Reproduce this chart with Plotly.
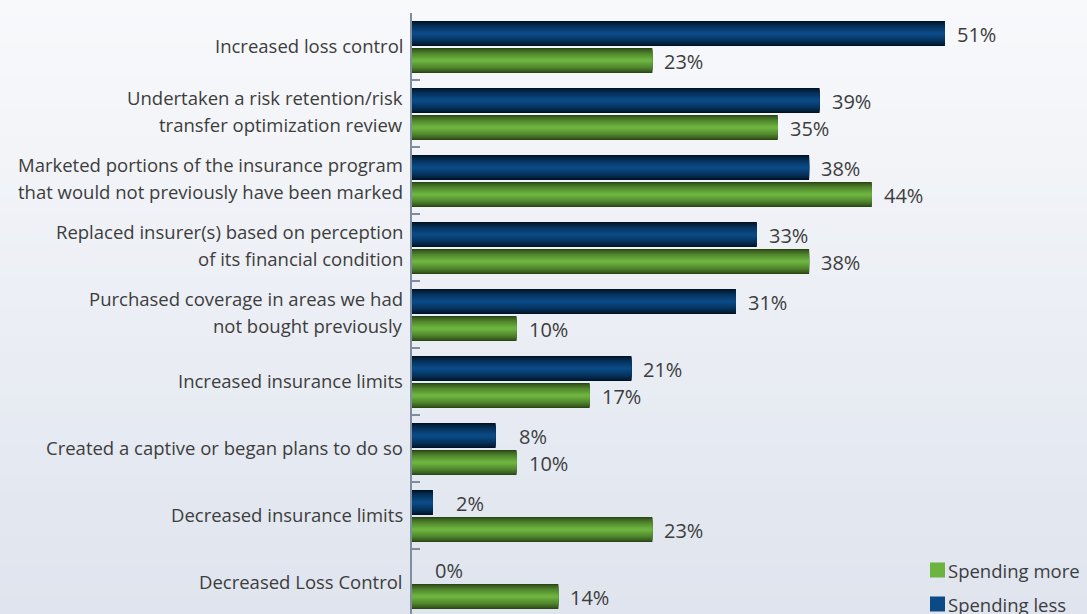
import plotly.graph_objects as go

categories = [
    "Increased loss control",
    "Undertaken a risk retention/risk<br>transfer optimization review",
    "Marketed portions of the insurance program<br>that would not previously have been marked",
    "Replaced insurer(s) based on perception<br>of its financial condition",
    "Purchased coverage in areas we had<br>not bought previously",
    "Increased insurance limits",
    "Created a captive or began plans to do so",
    "Decreased insurance limits",
    "Decreased Loss Control",
]
spending_less = [51, 39, 38, 33, 31, 21, 8, 2, 0]
spending_more = [23, 35, 44, 38, 10, 17, 10, 23, 14]
series_names = ["Spending more", "Spending less"]

W, H = 1087, 614
ML, MT = 412, 13
plot_w = W - ML
plot_h = H - MT
cat_px = 67.0
px_per_pct = 10.45

pos = list(range(len(categories)))
FONT = "Open Sans"
TXT = "#3d3d3d"
GREEN = "#6cb43f"
BLUE = "#0a4a86"
AXIS = "#7f8e9e"

fig = go.Figure()

def shade(c1, c2, t):
    a = [int(c1[i:i+2], 16) for i in (1, 3, 5)]
    b = [int(c2[i:i+2], 16) for i in (1, 3, 5)]
    return "#%02x%02x%02x" % tuple(round(a[k] + (b[k] - a[k]) * t) for k in range(3))

bar_w = 25 / cat_px
series = [
    (spending_less, -13.0 / cat_px, "#001326", BLUE),
    (spending_more, 14.0 / cat_px, "#2b4716", GREEN),
]
NL = 10
for vals, off, edge, mid in series:
    for k in range(NL):
        t = k / (NL - 1)
        frac = 1 - 0.9 * t
        fig.add_trace(go.Bar(
            x=vals, y=pos, orientation="h",
            width=bar_w * frac,
            offset=off - bar_w * frac / 2,
            marker=dict(color=shade(edge, mid, t ** 0.7), line=dict(width=0)),
            showlegend=False, hoverinfo="skip",
        ))

# value labels
for i in pos:
    fig.add_annotation(x=spending_less[i], y=i, text=f"{spending_less[i]}%", showarrow=False,
                       xanchor="right", xshift=53, yshift=12, font=dict(size=20, color=TXT, family=FONT))
    fig.add_annotation(x=spending_more[i], y=i, text=f"{spending_more[i]}%", showarrow=False,
                       xanchor="right", xshift=53, yshift=-15, font=dict(size=20, color=TXT, family=FONT))

# category labels (one annotation per line for line spacing control)
LS = 27.5
for i, lab in zip(pos, categories):
    lines = lab.split("<br>")
    n = len(lines)
    for j, ln in enumerate(lines):
        fig.add_annotation(x=0, xref="paper", y=i, yref="y", text=ln, showarrow=False,
                           xanchor="right", xshift=-7,
                           yshift=((n - 1) / 2 - j) * LS + (2.5 if n > 1 else 1),
                           font=dict(size=18.5, color=TXT, family=FONT))

# legend built manually
def px2paper_x(px):
    return (px - ML) / plot_w

def px2paper_y(py):
    return (H - py) / plot_h

legend_items = [(series_names[0], GREEN, 570), (series_names[1], BLUE, 604)]
for name, col, cy in legend_items:
    fig.add_shape(type="rect", xref="paper", yref="paper",
                  x0=px2paper_x(930), x1=px2paper_x(945),
                  y0=px2paper_y(cy + 7.5), y1=px2paper_y(cy - 7.5),
                  fillcolor=col, line=dict(width=0))
    fig.add_annotation(xref="paper", yref="paper", x=px2paper_x(946), y=px2paper_y(cy),
                       text=name, showarrow=False, xanchor="left", yanchor="middle",
                       font=dict(size=18.5, color=TXT, family=FONT))

# background gradient
NB = 40
for k in range(NB):
    y0 = 1 + MT / plot_h - k * (H / plot_h) / NB
    y1 = y0 - (H / plot_h) / NB
    fig.add_shape(type="rect", xref="paper", yref="paper", x0=-ML / plot_w, x1=1.0,
                  y0=y1, y1=y0 + 0.002, line=dict(width=0),
                  fillcolor=shade("#f8f9fb", "#dfe4ee", k / (NB - 1)), layer="below")

top = -0.5
bottom = top + plot_h / cat_px
fig.update_layout(
    width=W, height=H,
    margin=dict(l=ML, r=0, t=MT, b=0),
    barmode="overlay",
    paper_bgcolor="#eceff5", plot_bgcolor="rgba(0,0,0,0)",
    font=dict(family=FONT, size=18, color=TXT),
    xaxis=dict(range=[0, plot_w / px_per_pct], visible=False, fixedrange=True),
    yaxis=dict(
        range=[bottom, top],
        tickmode="array", tickvals=pos, ticktext=categories,
        showticklabels=False,
        ticks="", showgrid=False, zeroline=False,
        showline=True, linecolor=AXIS, linewidth=2,
        minor=dict(tickmode="array", tickvals=[p + 0.5 for p in pos], ticks="inside",
                   ticklen=8, tickcolor=AXIS, tickwidth=2, showgrid=False),
    ),
    showlegend=False,
)

fig.write_html("out.html")
